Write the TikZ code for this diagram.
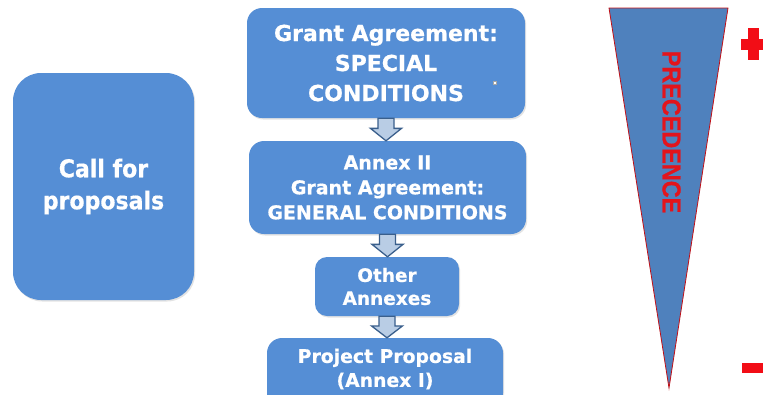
\documentclass[tikz,border=0pt]{standalone}
\usepackage{fontspec}
\setmainfont{DejaVu Sans}[BoldFeatures={FakeBold=0.6}]
\newfontfamily\condfont{DejaVu Sans Condensed}[BoldFeatures={FakeBold=0.6}]
\newfontfamily\arialfont{Liberation Sans}[BoldFont={Liberation Sans Bold}, BoldFeatures={FakeBold=0.8}]
\usetikzlibrary{calc,shadows}

\definecolor{boxblue}{HTML}{558ED5}
\definecolor{triblue}{HTML}{4F81BD}
\definecolor{arrowfill}{HTML}{B9CDE5}
\definecolor{arrowline}{HTML}{3A5F8C}
\definecolor{signred}{HTML}{F20D16}
\definecolor{wordred}{HTML}{E3141C}

\tikzset{
  docbox/.style={fill=boxblue, draw=none, rounded corners=#1, text=white,
    font=\bfseries, align=center, inner sep=0pt,
    drop shadow={opacity=0.22, shadow xshift=1.2pt, shadow yshift=-1.5pt}},
  docbox/.default=15pt,
  boxtext/.style={text=white, align=center, inner sep=0pt},
  flowarrow/.style={fill=arrowfill, draw=arrowline, line width=1.3pt, line join=miter},
}

% hollow block arrow between two stacked boxes
\newcommand\blockdown[2]{%
  \draw[flowarrow] let \p1=(#1.south), \p2=(#2.north),
      \n1={0.55*\y1+0.45*\y2} in
    (\x1-8pt,\y1) -- (\x1+8pt,\y1) -- (\x1+8pt,\n1) -- (\x1+15.5pt,\n1)
    -- (\x1,\y2) -- (\x1-15.5pt,\n1) -- (\x1-8pt,\n1) -- cycle;}

\begin{document}
\begin{tikzpicture}[x=1pt,y=-1pt]
  \useasboundingbox (0,0) rectangle (763,394);
  \clip (0,0) rectangle (763,394);
  \fill[white] (0,0) rectangle (763,394);

  % left box
  \node[docbox=28pt, minimum width=181pt, minimum height=227pt,
        font=\condfont\bfseries\fontsize{24.5}{32}\selectfont]
    (call) at (103.5,186.5) {Call for\\proposals};

  % stack of documents
  \node[docbox, minimum width=278pt, minimum height=110pt,
        font=\bfseries\fontsize{22}{30}\selectfont]
    (special) at (386,63) {Grant Agreement:\\SPECIAL\\CONDITIONS};
  \node[docbox, minimum width=277pt, minimum height=93pt,
        font=\bfseries\fontsize{19}{25}\selectfont]
    (general) at (387.5,187.5) {Annex II\\Grant Agreement:\\GENERAL CONDITIONS};
  \node[docbox=12pt, minimum width=144pt, minimum height=59pt,
        font=\bfseries\fontsize{18.5}{23}\selectfont]
    (other) at (387,286.5) {Other\\Annexes};
  \node[docbox, minimum width=236pt, minimum height=70pt]
    (proposal) at (385,373) {};
  \node[boxtext, font=\bfseries\fontsize{18.8}{24}\selectfont]
    (proposaltext) at (385,369) {Project Proposal\\(Annex I)};

  % small speck in the top box
  \draw[gray!70, fill=white, line width=0.4pt] (493.5,81.5) rectangle (496.5,84.5);

  \blockdown{special}{general}
  \blockdown{general}{other}
  \blockdown{other}{proposal}

  % precedence wedge
  \coordinate (tl) at (609,8);
  \coordinate (tr) at (728,8);
  \coordinate (tip) at (669,388);
  \filldraw[fill=triblue, draw=wordred!85!black, line width=0.8pt, line join=miter]
    (tl) -- (tr) -- (tip) -- cycle;
  \node[rotate=-90, text=wordred, inner sep=0pt,
        font=\arialfont\bfseries\fontsize{26}{26}\selectfont]
    (prec) at (671.5,132) {\scalebox{0.9}[1]{PRECEDENCE}};

  % plus and minus marks
  \fill[signred] (741,38.5) rectangle (766,49.5);
  \fill[signred] (747.5,28) rectangle (758.5,60);
  \fill[signred] (742,363) rectangle (770,373);
\end{tikzpicture}
\end{document}
